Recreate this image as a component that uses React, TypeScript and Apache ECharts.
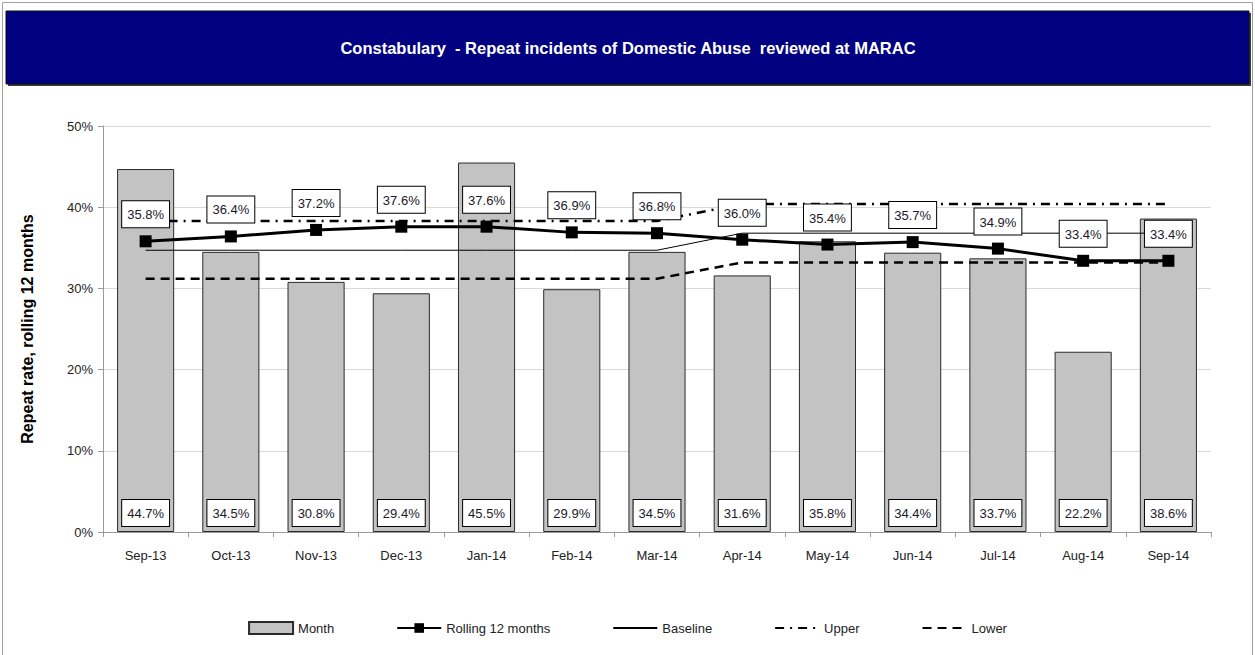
import React, { useEffect, useRef } from "react";
import * as echarts from "echarts";

const categories = ["Sep-13", "Oct-13", "Nov-13", "Dec-13", "Jan-14", "Feb-14", "Mar-14", "Apr-14", "May-14", "Jun-14", "Jul-14", "Aug-14", "Sep-14"];
const monthValues = [44.7, 34.5, 30.8, 29.4, 45.5, 29.9, 34.5, 31.6, 35.8, 34.4, 33.7, 22.2, 38.6];
const rollingValues = [35.8, 36.4, 37.2, 37.6, 37.6, 36.9, 36.8, 36.0, 35.4, 35.7, 34.9, 33.4, 33.4];
const baselineValues = [34.7, 34.7, 34.7, 34.7, 34.7, 34.7, 34.7, 36.8, 36.8, 36.8, 36.8, 36.8, 36.8];
const upperValues = [38.3, 38.3, 38.3, 38.3, 38.3, 38.3, 38.3, 40.4, 40.4, 40.4, 40.4, 40.4, 40.4];
const lowerValues = [31.2, 31.2, 31.2, 31.2, 31.2, 31.2, 31.2, 33.2, 33.2, 33.2, 33.2, 33.2, 33.2];
const yTicks = { min: 0, max: 50, interval: 10 };

const TITLE = "Constabulary  - Repeat incidents of Domestic Abuse  reviewed at MARAC";
const FONT = "'Liberation Sans', Arial, sans-serif";

export default function App() {
  const ref = useRef<HTMLDivElement>(null);
  useEffect(() => {
    if (!ref.current) return;
    const chart = echarts.init(ref.current, null, { renderer: "svg" });
    const boxLabel = {
      show: true,
      formatter: (p: any) => Number(p.value).toFixed(1) + "%",
      fontFamily: FONT,
      fontSize: 13,
      color: "#1a1a2a",
      backgroundColor: "#ffffff",
      borderColor: "#000000",
      borderWidth: 1,
      padding: [7, 5, 6, 5],
    };
    const hiddenSymbol = { color: "transparent", borderWidth: 0, opacity: 0 };
    chart.setOption({
      animation: false,
      backgroundColor: "#ffffff",
      textStyle: { fontFamily: FONT },
      graphic: [
        { type: "rect", shape: { x: 2.5, y: 2.5, width: 1250, height: 660 }, style: { fill: "none", stroke: "#a0a0a0", lineWidth: 1 }, silent: true },
        { type: "rect", shape: { x: 8, y: 13, width: 1243, height: 73 }, style: { fill: "#3a3a3a" }, silent: true },
        { type: "rect", shape: { x: 6, y: 11, width: 1243, height: 73 }, style: { fill: "#000080", stroke: "#111", lineWidth: 1 }, silent: true },
        {
          type: "text",
          x: 628,
          y: 48,
          style: {
            text: TITLE,
            fill: "#ffffff",
            font: "bold 16.5px 'Liberation Sans Narrow', 'Arial Narrow', 'Liberation Sans', sans-serif",
            align: "center",
            verticalAlign: "middle",
          },
          silent: true,
        },
      ],
      grid: { left: 103, right: 44, top: 126, bottom: 123, containLabel: false },
      legend: {
        bottom: 15,
        left: "center",
        itemWidth: 44,
        itemHeight: 12,
        itemGap: 62,
        textStyle: { fontFamily: FONT, fontSize: 13, color: "#222" },
        data: [
          { name: "Month", icon: "rect" },
          { name: "Rolling 12 months" },
          { name: "Baseline", itemStyle: hiddenSymbol },
          { name: "Upper", itemStyle: hiddenSymbol },
          { name: "Lower", itemStyle: hiddenSymbol },
        ],
      },
      xAxis: {
        type: "category",
        data: categories,
        boundaryGap: true,
        axisLine: { lineStyle: { color: "#9a9a9a" } },
        axisTick: { show: true, alignWithLabel: false, length: 5, lineStyle: { color: "#9a9a9a" } },
        axisLabel: { fontFamily: FONT, fontSize: 13, color: "#222", margin: 17 },
      },
      yAxis: {
        type: "value",
        min: yTicks.min,
        max: yTicks.max,
        interval: yTicks.interval,
        name: "Repeat rate, rolling 12 months",
        nameLocation: "middle",
        nameGap: 68,
        nameTextStyle: { fontFamily: FONT, fontSize: 16, fontWeight: "bold", color: "#000" },
        axisLine: { show: true, lineStyle: { color: "#9a9a9a" } },
        axisTick: { show: true, length: 5, lineStyle: { color: "#9a9a9a" } },
        axisLabel: { formatter: "{value}%", fontFamily: FONT, fontSize: 13, color: "#222", margin: 10 },
        splitLine: { show: true, lineStyle: { color: "#d9d9d9", width: 1 } },
      },
      series: [
        {
          name: "Month",
          type: "bar",
          data: monthValues,
          barCategoryGap: "33%",
          itemStyle: { color: "#c3c3c3", borderColor: "#2a2a2a", borderWidth: 1 },
          label: { ...boxLabel, position: "insideBottom", distance: 6 },
          z: 1,
        },
        {
          name: "Baseline",
          type: "line",
          data: baselineValues,
          symbol: "none",
          lineStyle: { color: "#000", width: 1, type: "solid" },
          itemStyle: { color: "#000" },
          z: 2,
        },
        {
          name: "Upper",
          type: "line",
          data: upperValues,
          symbol: "none",
          lineStyle: { color: "#000", width: 2.5, type: [9, 6, 2, 6] },
          itemStyle: { color: "#000" },
          z: 2,
        },
        {
          name: "Lower",
          type: "line",
          data: lowerValues,
          symbol: "none",
          lineStyle: { color: "#000", width: 2.5, type: [9, 6] },
          itemStyle: { color: "#000" },
          z: 2,
        },
        {
          name: "Rolling 12 months",
          type: "line",
          data: rollingValues,
          symbol: "rect",
          symbolSize: 12,
          lineStyle: { color: "#000", width: 3 },
          itemStyle: { color: "#000" },
          label: { ...boxLabel, position: "top", distance: 8 },
          z: 3,
        },
      ],
    });
    return () => chart.dispose();
  }, []);
  return <div ref={ref} style={{ position: "fixed", left: 0, top: 0, width: 1255, height: 655 }} />;
}
